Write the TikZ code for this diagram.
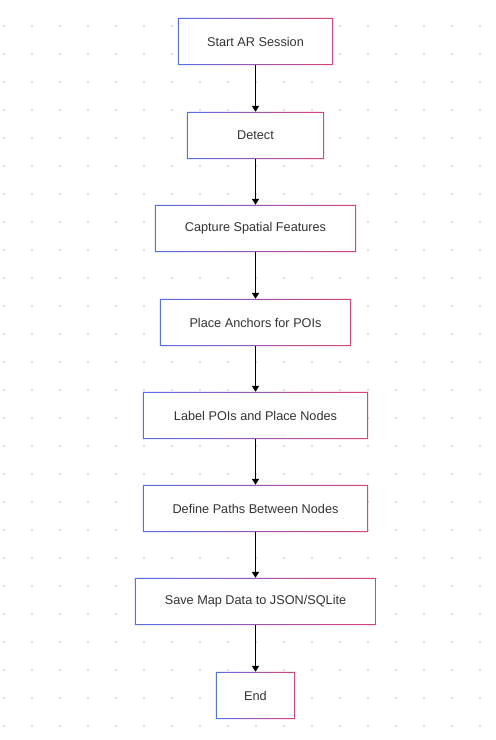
\documentclass[tikz,border=0pt]{standalone}
\usepackage{fontspec}
\setmainfont{Liberation Sans}
\usetikzlibrary{arrows.meta}
\definecolor{boxblue}{RGB}{85,110,235}
\definecolor{boxpink}{RGB}{222,65,120}
\definecolor{textgray}{RGB}{51,51,51}
\definecolor{dotgray}{RGB}{210,210,210}
\tikzset{
  stepbox/.style={rectangle, minimum height=47pt, inner sep=0pt, fill=white,
    text=textgray, font=\fontsize{12.7}{15}\selectfont},
  frame/.style={left color=boxblue, right color=boxpink, even odd rule},
  flow/.style={-{Triangle[length=6pt,width=7pt]}, line width=1.8pt}
}
\begin{document}
\begin{tikzpicture}[x=1pt, y=-1pt]
\useasboundingbox (0,0) rectangle (496,740);
\fill[white] (0,0) rectangle (496,740);
\foreach \i in {0,...,17}
  \foreach \j in {0,...,25}
    \fill[dotgray] (4+28*\i, 26+28*\j) circle (1.1);

\node (Start) at (255.5, 41.5) [stepbox, minimum width=155pt] {Start AR Session};
\node (Detect) at (255.5, 135.5) [stepbox, minimum width=137pt] {Detect};
\node (Capture) at (255.5, 228.5) [stepbox, minimum width=201pt] {Capture Spatial Features};
\node (Anchors) at (255.5, 322.5) [stepbox, minimum width=191pt] {Place Anchors for POIs};
\node (Label) at (255.5, 415.5) [stepbox, minimum width=225pt] {Label POIs and Place Nodes};
\node (Paths) at (255.5, 508.5) [stepbox, minimum width=225pt] {Define Paths Between Nodes};
\node (Save) at (255.5, 601.5) [stepbox, minimum width=241pt] {Save Map Data to JSON/SQLite};
\node (End) at (255.5, 695.5) [stepbox, minimum width=79pt] {End};

% gradient borders
\foreach \n in {Start,Detect,Capture,Anchors,Label,Paths,Save,End}
  \path[frame] (\n.south west) rectangle (\n.north east)
    ([shift={(1pt,1pt)}]\n.south west) rectangle ([shift={(-1pt,-1pt)}]\n.north east);

\draw[flow] (Start) to (Detect);
\draw[flow] (Detect) to (Capture);
\draw[flow] (Capture) to (Anchors);
\draw[flow] (Anchors) to (Label);
\draw[flow] (Label) to (Paths);
\draw[flow] (Paths) to (Save);
\draw[flow] (Save) to (End);
\end{tikzpicture}
\end{document}
